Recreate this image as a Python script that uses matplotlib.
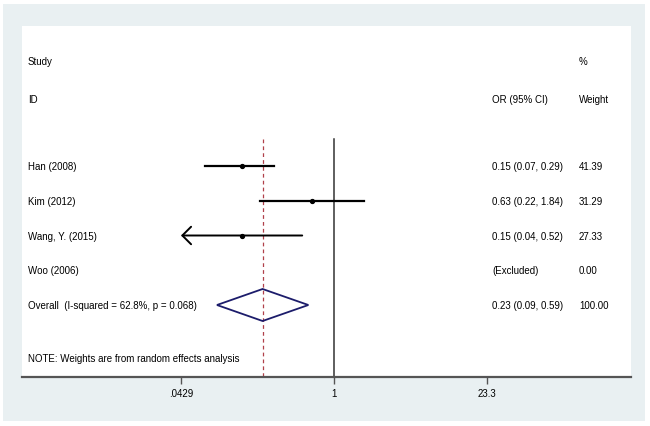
#!/usr/bin/env python3
"""Forest plot: OR (95% CI) by study, random effects."""

import matplotlib
matplotlib.use("Agg")
import matplotlib.pyplot as plt
from matplotlib.patches import Polygon, Rectangle
import numpy as np

plt.rcParams["font.family"] = ["Liberation Sans", "DejaVu Sans"]

studies = ["Han (2008)", "Kim (2012)", "Wang, Y. (2015)", "Woo (2006)"]
or_est = [0.15, 0.63, 0.15, np.nan]
ci_low = [0.07, 0.22, 0.04, np.nan]
ci_high = [0.29, 1.84, 0.52, np.nan]
or_text = ["0.15 (0.07, 0.29)", "0.63 (0.22, 1.84)", "0.15 (0.04, 0.52)", "(Excluded)"]
weights = ["41.39", "31.29", "27.33", "0.00"]

overall_label = "Overall  (I-squared = 62.8%, p = 0.068)"
overall_est = 0.23
overall_low = 0.09
overall_high = 0.59
overall_text = "0.23 (0.09, 0.59)"
overall_weight = "100.00"

note = "NOTE: Weights are from random effects analysis"
tick_vals = [0.0429, 1, 23.3]
tick_labels = [".0429", "1", "23.3"]

W, H = 650, 427
fig = plt.figure(figsize=(W / 100, H / 100), dpi=100)
fig.patch.set_facecolor("white")
fig.patches.append(Rectangle((3 / W, 1 - 422 / H), 642 / W, 417 / H,
                             transform=fig.transFigure, facecolor="#e9f0f2",
                             edgecolor="none", zorder=-10))

# plot panel in pixels: x 22..631, y 27..378
ax = fig.add_axes([22 / W, 1 - 378 / H, 609 / W, 351 / H])
ax.set_facecolor("white")

px_per_ln = 48.6
x0 = 334
ax.set_xscale("log")
ax.set_xlim(np.exp((22 - x0) / px_per_ln), np.exp((631 - x0) / px_per_ln))

row_px = 34.75
han_px = 167
def py(p):
    return (p - han_px) / row_px
ax.set_ylim(py(378), py(27))

for s in ["top", "left", "right"]:
    ax.spines[s].set_visible(False)
ax.spines["bottom"].set_color("#555555")
ax.spines["bottom"].set_linewidth(1.6)
ax.set_yticks([])
ax.set_xticks(tick_vals)
ax.set_xticklabels(tick_labels)
ax.xaxis.set_minor_locator(matplotlib.ticker.NullLocator())
ax.tick_params(axis="x", length=5, width=1, color="#555555", labelsize=7, pad=3)

fs = 7
tx_name = (28 - 22) / 609
tx_or = (492 - 22) / 609
tx_w = (579 - 22) / 609
trans = ax.get_yaxis_transform()

# reference lines
ax.plot([1, 1], [py(140), py(378)], color="#333333", lw=1.1, zorder=2)
ax.plot([overall_est, overall_est], [py(140), py(378)], color="#b0404a",
        lw=0.9, ls=(0, (3, 2.5)), zorder=2)

# headers
ax.text(tx_name, py(62), "Study", transform=trans, fontsize=fs, va="center")
ax.text(tx_name, py(100), "ID", transform=trans, fontsize=fs, va="center")
ax.text(tx_or, py(100), "OR (95% CI)", transform=trans, fontsize=fs, va="center")
ax.text(tx_w, py(62), "%", transform=trans, fontsize=fs, va="center")
ax.text(tx_w, py(100), "Weight", transform=trans, fontsize=fs, va="center")

xmin_plot = tick_vals[0]
for i, name in enumerate(studies):
    ax.text(tx_name, i, name, transform=trans, fontsize=fs, va="center")
    ax.text(tx_or, i, or_text[i], transform=trans, fontsize=fs, va="center")
    ax.text(tx_w, i, weights[i], transform=trans, fontsize=fs, va="center")
    if np.isnan(or_est[i]):
        continue
    if ci_low[i] < xmin_plot:
        ax.annotate("", xy=(xmin_plot, i), xytext=(ci_high[i], i),
                    arrowprops=dict(arrowstyle="->,head_length=0.45,head_width=0.45",
                                    lw=1.4, color="black", shrinkA=0, shrinkB=0,
                                    mutation_scale=14))
    else:
        ax.plot([ci_low[i], ci_high[i]], [i, i], color="black", lw=1.6, zorder=3)
    ax.plot(or_est[i], i, "o", color="black", ms=2.8, zorder=4)

oy = 4
ax.text(tx_name, oy, overall_label, transform=trans, fontsize=fs, va="center")
ax.text(tx_or, oy, overall_text, transform=trans, fontsize=fs, va="center")
ax.text(tx_w, oy, overall_weight, transform=trans, fontsize=fs, va="center")
dh = 16 / row_px
diamond = Polygon([[overall_low, oy], [overall_est, oy - dh],
                   [overall_high, oy], [overall_est, oy + dh]],
                  closed=True, facecolor="none", edgecolor="#1c1c6b", lw=1.3, zorder=3)
ax.add_patch(diamond)

ax.text(tx_name, py(359), note, transform=trans, fontsize=fs, va="center")

fig.savefig("out.png", dpi=100)
